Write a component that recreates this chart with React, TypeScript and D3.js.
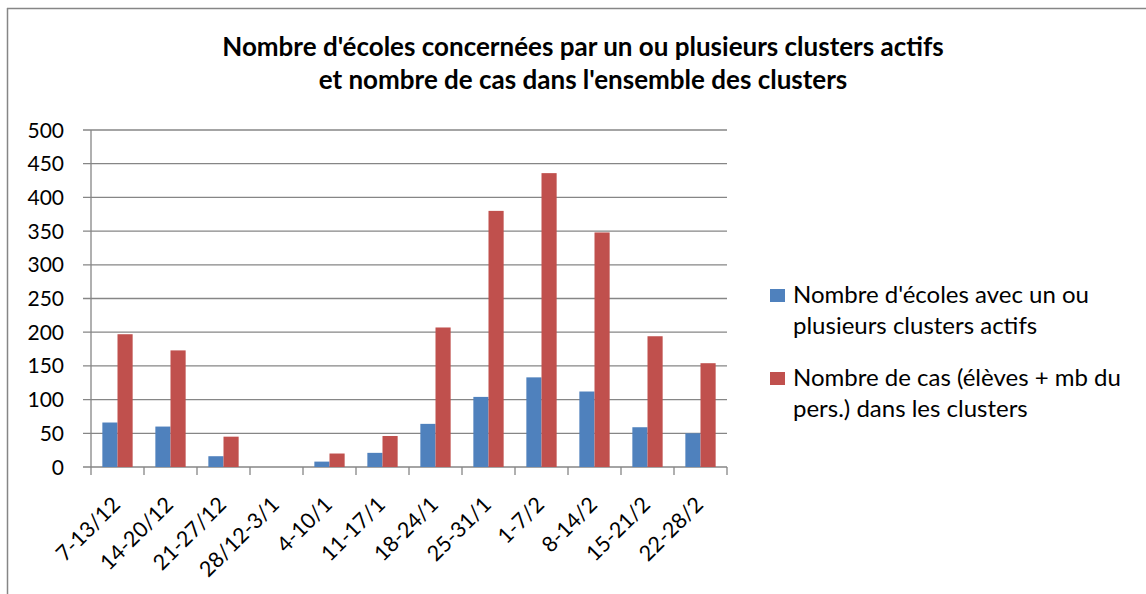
import React from "react";
import * as d3 from "d3";

const categories = ["7-13/12","14-20/12","21-27/12","28/12-3/1","4-10/1","11-17/1","18-24/1","25-31/1","1-7/2","8-14/2","15-21/2","22-28/2"];
const ecoles = [66, 60, 16, 0, 8, 21, 64, 104, 133, 112, 59, 50];
const cas = [197, 173, 45, 0, 20, 46, 207, 380, 436, 348, 194, 154];
const seriesNames = ["Nombre d'écoles avec un ou plusieurs clusters actifs", "Nombre de cas (élèves + mb du pers.) dans les clusters"];
const legendLines = [["Nombre d'écoles avec un ou", "plusieurs clusters actifs"], ["Nombre de cas (élèves + mb du", "pers.) dans les clusters"]];
const yTicks = [0, 50, 100, 150, 200, 250, 300, 350, 400, 450, 500];
const titleLines = ["Nombre d'écoles concernées par un ou plusieurs clusters actifs", "et nombre de cas dans l'ensemble des clusters"];
const colors = ["#4F81BD", "#C0504D"];

const W = 1146, H = 594;
const plot = { left: 91, right: 727, top: 130, bottom: 467 };
const FONT = "Lato, 'Open Sans', sans-serif";
const GRID = "#868686";

export default function App() {
  const x = d3.scaleBand<string>().domain(categories).range([plot.left, plot.right]).paddingInner(0).paddingOuter(0);
  const sub = d3.scaleBand<string>().domain(seriesNames).range([0, x.bandwidth()]).paddingInner(0).paddingOuter(0.75);
  const y = d3.scaleLinear().domain([0, 500]).range([plot.bottom, plot.top]);
  const data = [ecoles, cas];
  const tickXs = d3.range(categories.length + 1).map(i => plot.left + i * x.step());

  return (
    <svg width={W} height={H} style={{ position: "absolute", left: 0, top: 0, background: "#fff" }} fontFamily={FONT}>
      <rect x={0} y={0} width={W} height={H} fill="#fff" />
      <line x1={7.5} x2={7.5} y1={8} y2={H} stroke={GRID} strokeWidth={1.5} />
      <line x1={7} x2={W} y1={8.5} y2={8.5} stroke={GRID} strokeWidth={1.5} />
      {titleLines.map((t, i) => (
        <text key={i} x={583} y={56 + i * 33} textAnchor="middle" fontSize={26} fontWeight="bold" fill="#000">{t}</text>
      ))}
      {yTicks.map(v => (
        <g key={v}>
          <line x1={plot.left - 8} x2={plot.right} y1={y(v)} y2={y(v)} stroke={GRID} strokeWidth={1.3} />
          <text x={64} y={y(v)} dy="0.36em" textAnchor="end" fontSize={21} fill="#000">{v}</text>
        </g>
      ))}
      <line x1={plot.left} x2={plot.left} y1={plot.top} y2={plot.bottom} stroke={GRID} strokeWidth={1.3} />
      {tickXs.map((tx, i) => (
        <line key={i} x1={tx} x2={tx} y1={plot.bottom} y2={plot.bottom + 8} stroke={GRID} strokeWidth={1.3} />
      ))}
      {data.map((vals, s) => (
        <g key={s}>
          {vals.map((v, i) => (
            <rect key={i} x={(x(categories[i]) as number) + (sub(seriesNames[s]) as number)} y={y(v)} width={sub.bandwidth()} height={plot.bottom - y(v)} fill={colors[s]} />
          ))}
        </g>
      ))}
      {categories.map(c => {
        const cx = (x(c) as number) + x.bandwidth() / 2 + 4;
        const cy = 506;
        return (
          <text key={c} x={cx} y={cy} textAnchor="end" fontSize={21.5} fill="#000" transform={`rotate(-45, ${cx}, ${cy})`}>{c}</text>
        );
      })}
      {legendLines.map((lines, s) => (
        <g key={s}>
          <rect x={770} y={289 + s * 83} width={15} height={13} fill={colors[s]} />
          {lines.map((l, j) => (
            <text key={j} x={793} y={303 + s * 83 + j * 31} fontSize={24} fill="#000">{l}</text>
          ))}
        </g>
      ))}
    </svg>
  );
}
